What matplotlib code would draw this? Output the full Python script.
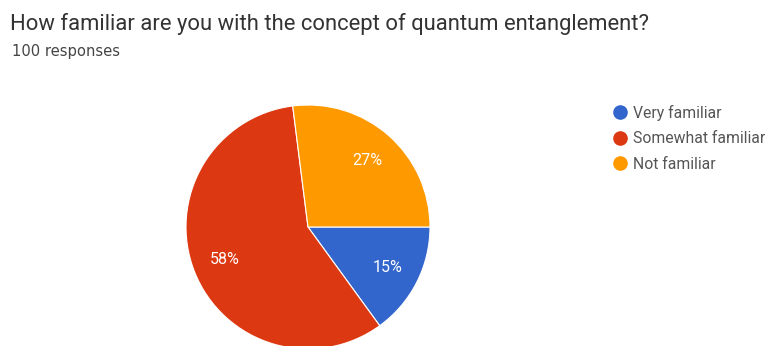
import matplotlib
matplotlib.use("Agg")
import matplotlib.pyplot as plt
from matplotlib.lines import Line2D
import numpy as np

title = "How familiar are you with the concept of quantum entanglement?"
subtitle = "100 responses"
categories = ["Very familiar", "Somewhat familiar", "Not familiar"]
shares = [15, 58, 27]
colors = ["#3366CC", "#DC3912", "#FF9900"]

plt.rcParams["font.family"] = ["Roboto", "DejaVu Sans"]

W, H = 771, 346
fig = plt.figure(figsize=(W / 100, H / 100), dpi=100)

# title and response count
fig.text(10.5 / W, 1 - 30 / H, title, fontsize=15.8, color="#333333", va="baseline")
fig.text(11.5 / W, 1 - 56 / H, subtitle, fontsize=10.6, color="#444444",
         va="baseline", family=["DejaVu Sans"])

# pie centred at (308, 227) px with radius ~122 px
cx, cy, r = 308, 227, 122
ax = fig.add_axes([(cx - r) / W, 1 - (cy + r) / H, 2 * r / W, 2 * r / H])
wedges, texts = ax.pie(
    shares,
    colors=colors,
    startangle=0,
    counterclock=False,
    wedgeprops=dict(edgecolor="white", linewidth=0.8),
)
for w, s in zip(wedges, shares):
    ang = np.deg2rad((w.theta1 + w.theta2) / 2)
    ax.text(0.73 * np.cos(ang), 0.73 * np.sin(ang), f"{s}%", color="white",
            fontsize=11.5, ha="center", va="center")
ax.set_xlim(-1, 1)
ax.set_ylim(-1, 1)
ax.set_aspect("equal")
ax.axis("off")

# legend
handles = [Line2D([], [], marker="o", linestyle="", markersize=9.5,
                  markerfacecolor=c, markeredgecolor=c) for c in colors]
fig.legend(handles, categories, loc="upper left",
           bbox_to_anchor=(613.5 / W, 1 - 104.5 / H), frameon=False,
           fontsize=11.3, handletextpad=0.43, labelspacing=0.67,
           borderaxespad=0, borderpad=0, handlelength=0.8,
           labelcolor="#555555")

fig.savefig("out.png", dpi=100)
